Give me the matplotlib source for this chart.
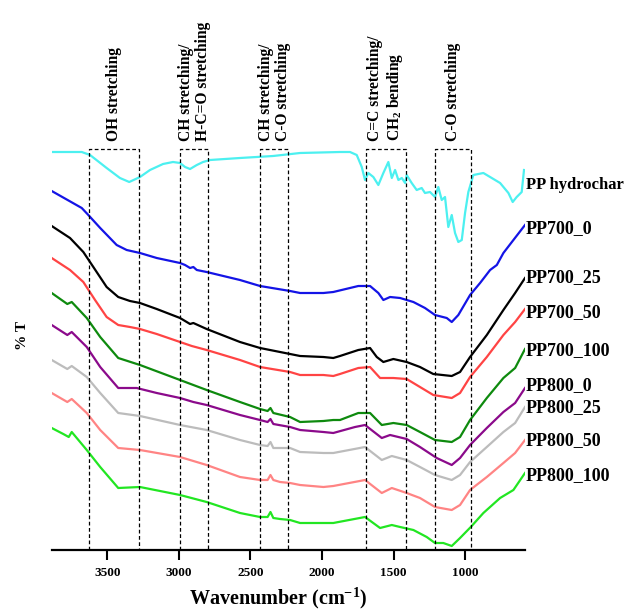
import matplotlib
matplotlib.use("Agg")
import matplotlib.pyplot as plt
import matplotlib.transforms as mtransforms

plt.rcParams['font.family'] = ['Liberation Serif', 'DejaVu Serif']
plt.rcParams['font.weight'] = 'bold'
plt.rcParams['mathtext.fontset'] = 'custom'
plt.rcParams['mathtext.rm'] = 'Liberation Serif:bold'
plt.rcParams['mathtext.it'] = 'Liberation Serif:bold'
plt.rcParams['mathtext.bf'] = 'Liberation Serif:bold'
plt.rcParams['mathtext.default'] = 'bf'

# ---------------- data (wavenumber cm-1, transmittance in arbitrary offset units) ----------------
hydro_w = [3889, 3679, 3621, 3505, 3412, 3347, 3272, 3202, 3111, 3041, 2992, 2957, 2922, 2875, 2831,
           2782, 2573, 2342, 2153, 1874, 1804, 1757, 1722, 1699, 1676, 1641, 1606, 1571, 1536, 1512,
           1489, 1466, 1442, 1419, 1408, 1373, 1338, 1303, 1280, 1245, 1210, 1187, 1163, 1140, 1117,
           1093, 1070, 1047, 1023, 1000, 977, 942, 872, 825, 755, 697, 667, 639, 604, 588]
hydro_t = [398, 398, 395, 382, 372, 368, 373, 380, 386, 388, 387, 383, 381, 385, 388,
           390, 392, 394, 397, 398, 398, 395, 383, 370, 377, 373, 365, 377, 388, 372,
           380, 370, 372, 367, 375, 367, 360, 362, 357, 358, 353, 363, 350, 353, 323,
           335, 317, 308, 310, 337, 358, 375, 377, 373, 367, 357, 348, 353, 358, 380]

pp700_0_w = [3889, 3679, 3633, 3550, 3435, 3365, 3272, 3155, 2992, 2957, 2922, 2899, 2875, 2806,
             2573, 2433, 2223, 2153, 1990, 1921, 1746, 1664, 1606, 1571, 1524, 1454, 1361, 1280,
             1210, 1128, 1093, 1047, 965, 895, 825, 778, 732, 662, 581]
pp700_0_t = [359, 342, 335, 322, 305, 300, 297, 292, 287, 285, 282, 283, 280, 278,
             270, 264, 259, 257, 257, 258, 264, 264, 257, 250, 253, 252, 248, 242,
             235, 232, 228, 235, 255, 267, 280, 285, 297, 310, 325]

pp700_25_w = [3889, 3761, 3668, 3598, 3505, 3424, 3342, 3272, 3155, 2992, 2922, 2899, 2806, 2573,
              2433, 2223, 2153, 1990, 1921, 1874, 1746, 1664, 1617, 1571, 1501, 1408, 1315, 1222,
              1093, 1035, 965, 848, 732, 650, 581]
pp700_25_t = [324, 312, 298, 283, 263, 253, 249, 247, 241, 232, 226, 227, 221, 208,
              202, 196, 194, 193, 192, 194, 200, 202, 193, 188, 191, 188, 183, 176,
              174, 178, 193, 215, 240, 257, 272]

pp700_50_w = [3889, 3761, 3668, 3586, 3505, 3424, 3342, 3272, 3155, 2992, 2910, 2806, 2573, 2433,
              2223, 2153, 1990, 1921, 1874, 1746, 1664, 1594, 1501, 1408, 1315, 1222, 1093, 1035,
              965, 848, 732, 650, 581]
pp700_50_t = [292, 280, 268, 250, 233, 225, 223, 221, 216, 208, 204, 200, 190, 183,
              178, 175, 175, 174, 176, 182, 183, 172, 172, 171, 163, 155, 152, 157,
              173, 193, 215, 228, 241]

pp700_100_w = [3889, 3780, 3749, 3644, 3550, 3424, 3272, 2992, 2806, 2573, 2433, 2380, 2360, 2340,
               2223, 2153, 1990, 1921, 1874, 1746, 1664, 1582, 1501, 1408, 1315, 1210, 1093, 1035,
               965, 848, 732, 650, 581]
pp700_100_t = [257, 246, 248, 232, 213, 192, 185, 170, 160, 148, 141, 139, 142, 137,
               133, 128, 129, 130, 130, 137, 137, 125, 127, 125, 118, 110, 108, 113,
               130, 152, 172, 182, 201]

pp800_0_w = [3889, 3780, 3749, 3644, 3550, 3424, 3295, 3155, 2992, 2899, 2806, 2573, 2433, 2380,
             2360, 2340, 2223, 2153, 1990, 1921, 1769, 1699, 1582, 1524, 1408, 1315, 1198, 1093,
             1035, 965, 848, 732, 650, 581]
pp800_0_t = [225, 215, 218, 203, 183, 162, 162, 157, 152, 148, 145, 135, 130, 128,
             131, 126, 123, 120, 118, 117, 123, 125, 112, 115, 111, 103, 92, 85,
             92, 105, 122, 138, 147, 162]

pp800_25_w = [3889, 3780, 3749, 3644, 3550, 3424, 3272, 2992, 2806, 2573, 2433, 2380, 2360, 2340,
              2223, 2153, 1990, 1921, 1699, 1582, 1512, 1408, 1315, 1210, 1093, 1035, 965, 848,
              732, 650, 581]
pp800_25_t = [190, 181, 184, 173, 157, 137, 134, 125, 120, 110, 105, 104, 108, 102,
              102, 98, 97, 97, 103, 90, 94, 90, 83, 75, 70, 75, 88, 103,
              118, 127, 143]

pp800_50_w = [3889, 3780, 3749, 3644, 3550, 3424, 3272, 2992, 2806, 2573, 2433, 2380, 2360, 2340,
              2293, 2223, 2153, 1990, 1921, 1699, 1582, 1512, 1408, 1315, 1210, 1093, 1035, 965,
              848, 732, 650, 581]
pp800_50_t = [157, 148, 151, 137, 120, 102, 100, 93, 85, 73, 70, 70, 75, 70,
              68, 67, 65, 63, 64, 70, 57, 62, 57, 52, 43, 40, 45, 60,
              73, 87, 97, 110]

pp800_100_w = [3889, 3808, 3770, 3749, 3644, 3550, 3424, 3272, 2992, 2806, 2573, 2433, 2380, 2360,
               2340, 2293, 2223, 2153, 1990, 1921, 1699, 1594, 1512, 1454, 1361, 1268, 1210, 1152,
               1093, 1035, 960, 872, 755, 662, 581]
pp800_100_t = [122, 116, 113, 118, 100, 83, 62, 63, 55, 48, 37, 33, 33, 38,
               32, 31, 30, 27, 27, 27, 33, 22, 25, 23, 20, 13, 7, 7,
               4, 12, 23, 37, 52, 60, 77]

series_names = ['PP hydrochar', 'PP700_0', 'PP700_25', 'PP700_50', 'PP700_100',
                'PP800_0', 'PP800_25', 'PP800_50', 'PP800_100']
series_w = [hydro_w, pp700_0_w, pp700_25_w, pp700_50_w, pp700_100_w,
            pp800_0_w, pp800_25_w, pp800_50_w, pp800_100_w]
series_t = [hydro_t, pp700_0_t, pp700_25_t, pp700_50_t, pp700_100_t,
            pp800_0_t, pp800_25_t, pp800_50_t, pp800_100_t]
series_colors = ['#4cf0f0', '#1414e6', '#000000', '#ff4444', '#0e8a0e',
                 '#8b0a8b', '#bcbcbc', '#ff8484', '#22e622']
label_y = [361, 317, 268, 233, 195, 160, 138, 105, 70]

band_left = [3630, 2990, 2430, 1690, 1210]
band_right = [3280, 2795, 2235, 1415, 960]
band_labels = ['OH stretching', 'CH stretching/\nH-C=O stretching', 'CH stretching/\nC-O stretching',
               'C=C stretching/\nCH$_2$ bending', 'C-O stretching']
band_top = 401

xticks = [3500, 3000, 2500, 2000, 1500, 1000]

# ---------------- figure ----------------
W, H = 630, 611
fig = plt.figure(figsize=(W / 100, H / 100), dpi=100)
ax = fig.add_axes([51.7 / W, 1 - 550 / H, (525 - 51.7) / W, (550 - 40) / H])
ax.set_xlim(3889, 581)
ax.set_ylim(0, 510)

for w, t, c in zip(series_w, series_t, series_colors):
    ax.plot(w, t, color=c, lw=1.6, solid_joinstyle='round')

for l, r in zip(band_left, band_right):
    ax.plot([l, l, r, r], [0, band_top, band_top, 0], color='black', lw=0.9,
            linestyle=(0, (3, 2)), clip_on=False)

for l, r, s in zip(band_left, band_right, band_labels):
    ax.text((l + r) / 2, 409, s, rotation=90, ha='center', va='bottom',
            multialignment='left', fontsize=11.2, fontweight='bold', linespacing=1.1,
            clip_on=False)

trans = mtransforms.blended_transform_factory(ax.transAxes, ax.transData)
for name, y in zip(series_names, label_y):
    ax.text(1.002, y, name, transform=trans, ha='left', va='baseline',
            fontsize=12 if name == 'PP hydrochar' else 13, fontweight='bold', clip_on=False)

for s in ['left', 'top', 'right']:
    ax.spines[s].set_visible(False)
ax.spines['bottom'].set_linewidth(1.6)
ax.set_yticks([])
ax.set_xticks(xticks)
ax.set_xticklabels([str(x) for x in xticks], fontsize=9.5, fontweight='bold')
ax.tick_params(axis='x', direction='out', length=7.2, width=1.5, pad=5)

fig.text(278 / W, 1 - 598 / H, r'Wavenumber (cm$^{-1}$)', ha='center', va='center',
         fontsize=14.5, fontweight='bold')
fig.text(22 / W, 1 - 335 / H, '% T', rotation=90, ha='center', va='center',
         fontsize=11, fontweight='bold')

fig.savefig('out.png', dpi=100)
